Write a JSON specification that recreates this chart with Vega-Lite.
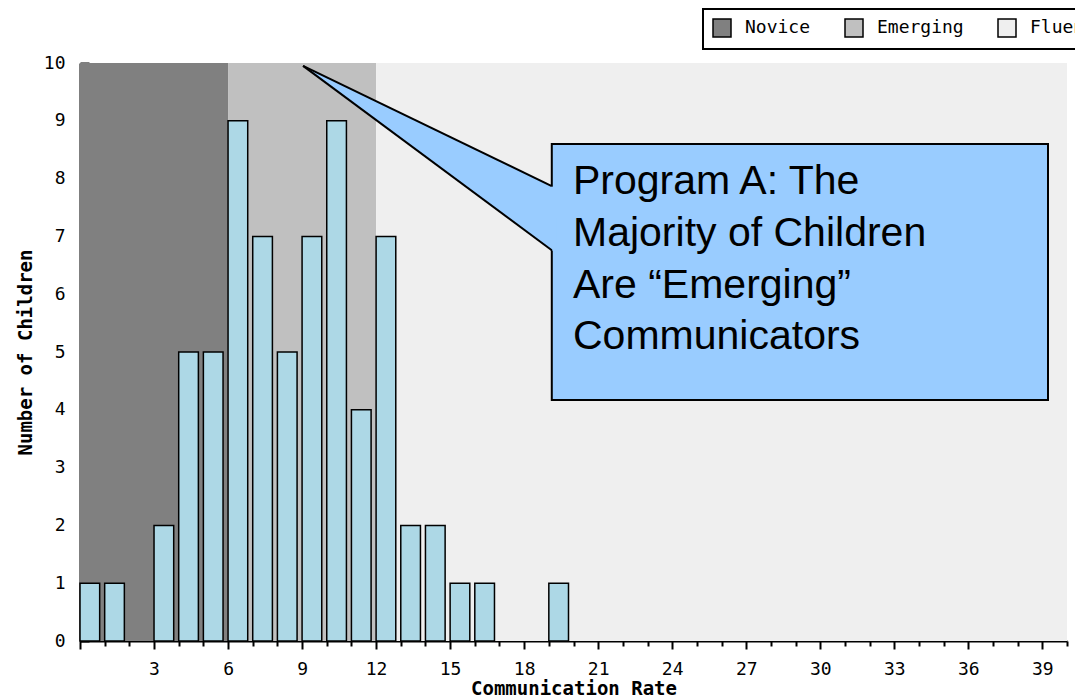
{
  "$schema": "https://vega.github.io/schema/vega-lite/v6.json",
  "width": 987,
  "height": 578,
  "autosize": {"type": "none"},
  "padding": {"left": 80, "top": 63, "right": 8, "bottom": 56},
  "background": "white",
  "view": {"stroke": null},
  "datasets": {
    "bands": [
      {"level": "Novice", "start": 0, "end": 6},
      {"level": "Emerging", "start": 6, "end": 12},
      {"level": "Fluent", "start": 12, "end": 40}
    ],
    "bars": [
      {"rate": 0, "rate_end": 1, "children": 1},
      {"rate": 1, "rate_end": 2, "children": 1},
      {"rate": 3, "rate_end": 4, "children": 2},
      {"rate": 4, "rate_end": 5, "children": 5},
      {"rate": 5, "rate_end": 6, "children": 5},
      {"rate": 6, "rate_end": 7, "children": 9},
      {"rate": 7, "rate_end": 8, "children": 7},
      {"rate": 8, "rate_end": 9, "children": 5},
      {"rate": 9, "rate_end": 10, "children": 7},
      {"rate": 10, "rate_end": 11, "children": 9},
      {"rate": 11, "rate_end": 12, "children": 4},
      {"rate": 12, "rate_end": 13, "children": 7},
      {"rate": 13, "rate_end": 14, "children": 2},
      {"rate": 14, "rate_end": 15, "children": 2},
      {"rate": 15, "rate_end": 16, "children": 1},
      {"rate": 16, "rate_end": 17, "children": 1},
      {"rate": 19, "rate_end": 20, "children": 1}
    ],
    "box": [{"x1": 19.12, "x2": 39.23, "y1": 4.17, "y2": 8.6}],
    "pointer": [
      {"px": 9.04, "top": 9.95, "bottom": 9.95},
      {"px": 19.3, "top": 7.83, "bottom": 6.71}
    ],
    "edges": [
      {"x1": 9.04, "y1": 9.95, "x2": 19.12, "y2": 7.87},
      {"x1": 9.04, "y1": 9.95, "x2": 19.12, "y2": 6.76}
    ],
    "note": [{"x": 19.98, "y": 7.73, "label": "Program A: The\nMajority of Children\nAre “Emerging”\nCommunicators"}]
  },
  "layer": [
    {
      "data": {"name": "bands"},
      "mark": {"type": "rect"},
      "encoding": {
        "x": {
          "field": "start", "type": "quantitative",
          "scale": {"domain": [0, 40], "nice": false, "zero": false},
          "axis": {
            "orient": "bottom",
            "values": [1, 2, 4, 5, 7, 8, 10, 11, 13, 14, 16, 17, 19, 20, 22, 23, 25, 26, 28, 29, 31, 32, 34, 35, 37, 38, 40],
            "tickSize": 5, "tickWidth": 2, "labels": false, "domain": false, "title": null
          }
        },
        "x2": {"field": "end"},
        "y": {"datum": 0, "type": "quantitative"},
        "y2": {"datum": 10},
        "color": {
          "field": "level", "type": "nominal",
          "scale": {"domain": ["Novice", "Emerging", "Fluent"], "range": ["#808080", "#c0c0c0", "#efefef"]},
          "legend": {
            "orient": "none", "legendX": 623, "legendY": -54, "direction": "horizontal",
            "title": null, "padding": 9, "strokeColor": "black", "fillColor": "white",
            "symbolType": "square", "symbolSize": 324, "symbolStrokeColor": "black", "symbolStrokeWidth": 1.5,
            "labelFont": "DejaVu Sans Mono", "labelFontSize": 18, "labelColor": "black",
            "labelOffset": 13, "columnPadding": 31,
            "encode": {"legend": {"update": {"strokeWidth": {"value": 2}}}}
          }
        }
      }
    },
    {
      "data": {"name": "bars"},
      "mark": {"type": "bar", "fill": "#add8e6", "stroke": "black", "strokeWidth": 1.5, "x2Offset": -5},
      "encoding": {
        "x": {
          "field": "rate", "type": "quantitative",
          "axis": {
            "orient": "bottom",
            "values": [0, 3, 6, 9, 12, 15, 18, 21, 24, 27, 30, 33, 36, 39],
            "labelExpr": "datum.value == 0 ? '' : datum.label",
            "tickSize": 8, "tickWidth": 2, "labelPadding": 11, "domain": true, "domainWidth": 2,
            "title": "Communication Rate", "titlePadding": 1
          }
        },
        "x2": {"field": "rate_end"},
        "y": {
          "field": "children", "type": "quantitative",
          "scale": {"domain": [0, 10], "nice": false},
          "axis": {
            "orient": "left",
            "values": [0, 1, 2, 3, 4, 5, 6, 7, 8, 9, 10],
            "format": "d",
            "tickSize": -9, "tickWidth": 2, "labelPadding": 24, "domainWidth": 2,
            "title": "Number of Children", "titlePadding": 8
          }
        },
        "y2": {"datum": 0}
      }
    },
    {
      "data": {"name": "box"},
      "mark": {"type": "rect", "fill": "#99ccff", "stroke": "black", "strokeWidth": 2},
      "encoding": {
        "x": {"field": "x1", "type": "quantitative", "axis": null},
        "x2": {"field": "x2"},
        "y": {"field": "y1", "type": "quantitative"},
        "y2": {"field": "y2"}
      }
    },
    {
      "data": {"name": "pointer"},
      "mark": {"type": "area", "fill": "#99ccff", "stroke": null},
      "encoding": {
        "x": {"field": "px", "type": "quantitative", "axis": null},
        "y": {"field": "top", "type": "quantitative"},
        "y2": {"field": "bottom"}
      }
    },
    {
      "data": {"name": "edges"},
      "mark": {"type": "rule", "stroke": "black", "strokeWidth": 2},
      "encoding": {
        "x": {"field": "x1", "type": "quantitative", "axis": null},
        "x2": {"field": "x2"},
        "y": {"field": "y1", "type": "quantitative"},
        "y2": {"field": "y2"}
      }
    },
    {
      "data": {"name": "note"},
      "mark": {"type": "text", "align": "left", "baseline": "alphabetic", "font": "Liberation Sans", "fontSize": 41, "lineHeight": 51.7, "lineBreak": "\n", "color": "black"},
      "encoding": {
        "x": {"field": "x", "type": "quantitative", "axis": null},
        "y": {"field": "y", "type": "quantitative"},
        "text": {"field": "label"}
      }
    }
  ],
  "resolve": {"axis": {"x": "independent"}},
  "config": {
    "axis": {
      "labelFont": "DejaVu Sans Mono", "labelFontSize": 18, "labelColor": "black",
      "titleFont": "DejaVu Sans Mono", "titleFontSize": 19, "titleFontWeight": "bold", "titleColor": "black",
      "domainColor": "black", "tickColor": "black", "grid": false
    }
  }
}
